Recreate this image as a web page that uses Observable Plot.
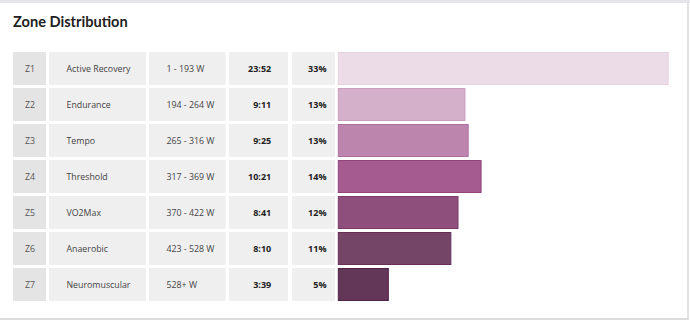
<!DOCTYPE html>
<html>
<head>
<meta charset="utf-8">
<script src="https://cdn.jsdelivr.net/npm/d3@7"></script>
<script src="https://cdn.jsdelivr.net/npm/@observablehq/plot@0.6"></script>
<style>
  html, body { margin: 0; padding: 0; background: #fff; }
  #card { position: relative; width: 690px; height: 321px; overflow: hidden; background: #fff; font-family: "Open Sans", sans-serif; }
  #topband { position: absolute; left: 0; top: 0; width: 690px; height: 3px; background: #e6e5eb; }
  #rightband { position: absolute; left: 687px; top: 0; width: 2px; height: 320px; background: #e3e3e3; }
  #bottomband { position: absolute; left: 0; top: 318px; width: 689px; height: 1.5px; background: #dcdcdc; }
  #title { position: absolute; left: 13px; top: 13px; font-family: Lato, "Open Sans", sans-serif; font-size: 14.6px; font-weight: 700; color: #222; line-height: 18px; }
  #chart { position: absolute; left: 0; top: 0; }
</style>
</head>
<body>
<div id="card">
  <div id="topband"></div>
  <div id="rightband"></div>
  <div id="bottomband"></div>
  <div id="title">Zone Distribution</div>
  <div id="chart"></div>
</div>
<script>
// ---- data ----
const zones = ["Z1", "Z2", "Z3", "Z4", "Z5", "Z6", "Z7"];
const zoneNames = ["Active Recovery", "Endurance", "Tempo", "Threshold", "VO2Max", "Anaerobic", "Neuromuscular"];
const powerRanges = ["1 - 193 W", "194 - 264 W", "265 - 316 W", "317 - 369 W", "370 - 422 W", "423 - 528 W", "528+ W"];
const times = ["23:52", "9:11", "9:25", "10:21", "8:41", "8:10", "3:39"];
const percents = [33, 13, 13, 14, 12, 11, 5];

// ---- styling (not data) ----
const barFills = ["#ecdce7", "#d4b0ca", "#bb85ae", "#a55a90", "#8e4f7c", "#744567", "#633757"];
const barStrokes = ["#e6d2df", "#c99fbd", "#ae6f9f", "#93437e", "#7c3b6b", "#652f57", "#4f2245"];

const toSeconds = (t) => t.split(":").map(Number).reduce((a, b) => a * 60 + b, 0);

const rows = zones.map((z, i) => ({
  zone: z,
  name: zoneNames[i],
  range: powerRanges[i],
  time: times[i],
  pct: percents[i] + "%",
  seconds: toSeconds(times[i])
}));

const W = 690, H = 321, ML = 13, MR = 21;
const frameLeft = ML, frameRight = W - MR;
// table columns (pixel layout)
const cols = [
  {left: 13, right: 46, bg: "#e4e4e4"},
  {left: 49, right: 146, bg: "#efefef"},
  {left: 149, right: 225.5, bg: "#efefef"},
  {left: 229, right: 288, bg: "#efefef"},
  {left: 292, right: 335, bg: "#efefef"}
];

const cellMarks = cols.map(c => Plot.cell(rows, {
  y: "zone",
  fill: c.bg,
  insetLeft: c.left - frameLeft,
  insetRight: frameRight - c.right
}));

const txt = (field, x, anchor, opts = {}) => Plot.text(rows, {
  y: "zone",
  text: field,
  frameAnchor: "left",
  dx: x - frameLeft,
  textAnchor: anchor,
  fontSize: 8.8,
  fill: "#444",
  ...opts
});

const maxSec = d3.max(rows, d => d.seconds);

const plot = Plot.plot({
  width: W,
  height: H,
  marginLeft: ML,
  marginRight: MR,
  marginTop: 0,
  marginBottom: 0,
  style: {fontFamily: "'Open Sans', sans-serif", background: "transparent"},
  x: {domain: [0, maxSec], range: [338.3, 668.7], axis: null},
  y: {type: "band", domain: zones, range: [50, 302.3], paddingInner: 0.09, paddingOuter: 0, axis: null},
  color: {domain: zones, range: barFills},
  marks: [
    ...cellMarks,
    Plot.barX(rows, {
      y: "zone",
      x: "seconds",
      fill: "zone",
      stroke: (d) => barStrokes[zones.indexOf(d.zone)],
      strokeWidth: 1,
      insetRight: 0.5,
      insetTop: 0.5,
      insetBottom: 0.5
    }),
    txt("zone", 29.5, "middle", {fill: "#555"}),
    txt("name", 66, "start"),
    txt("range", 166, "start"),
    txt("time", 270.7, "end", {fontWeight: "bold", fill: "#222", fontSize: 9, style: "letter-spacing:1.6px"}),
    txt("pct", 326, "end", {fontWeight: "bold", fill: "#222", fontSize: 9, style: "letter-spacing:0.6px"})
  ]
});
document.getElementById("chart").appendChild(plot);
</script>
</body>
</html>
